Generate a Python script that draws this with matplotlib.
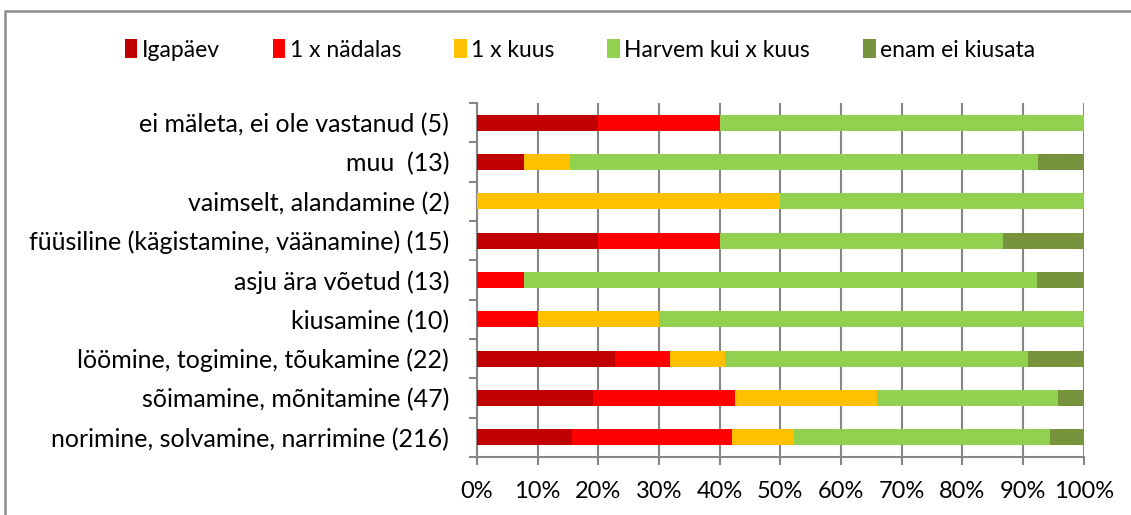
import matplotlib
matplotlib.use("Agg")
import matplotlib.pyplot as plt
from matplotlib.patches import Rectangle
import numpy as np

# categories listed bottom -> top
CATEGORIES = [
    "norimine, solvamine, narrimine (216)",
    "sõimamine, mõnitamine (47)",
    "löömine, togimine, tõukamine (22)",
    "kiusamine (10)",
    "asju ära võetud (13)",
    "füüsiline (kägistamine, väänamine) (15)",
    "vaimselt, alandamine (2)",
    "muu  (13)",
    "ei mäleta, ei ole vastanud (5)",
]
SERIES = ["Igapäev", "1 x nädalas", "1 x kuus", "Harvem kui x kuus", "enam ei kiusata"]
COLORS = ["#C00000", "#FF0000", "#FFC000", "#92D050", "#77933C"]

IGAPAEV = [15.7, 19.1, 22.7, 0.0, 0.0, 20.0, 0.0, 7.7, 20.0]
NADALAS = [26.4, 23.4, 9.1, 10.0, 7.7, 20.0, 0.0, 0.0, 20.0]
KUUS = [10.2, 23.4, 9.1, 20.0, 0.0, 0.0, 50.0, 7.7, 0.0]
HARVEM = [42.1, 29.8, 50.0, 70.0, 84.6, 46.7, 50.0, 77.0, 60.0]
ENAM = [5.6, 4.3, 9.1, 0.0, 7.7, 13.3, 0.0, 7.6, 0.0]

FONT = "Lato"
GRID = "#868686"

fig = plt.figure(figsize=(11.31, 5.15), dpi=100)
ax = fig.add_axes([477 / 1131, 1 - 457 / 515, (1083.7 - 477) / 1131, (457 - 103) / 515])

y = np.arange(len(CATEGORIES))
left = np.zeros(len(CATEGORIES))
for name, vals, col in zip(SERIES, [IGAPAEV, NADALAS, KUUS, HARVEM, ENAM], COLORS):
    vals = np.array(vals)
    ax.barh(y, vals, left=left, height=0.4, color=col, label=name, zorder=3)
    left += vals

ax.set_xlim(0, 100)
ax.set_ylim(-0.5, len(CATEGORIES) - 0.5)
ax.set_xticks(np.arange(0, 101, 10))
ax.set_xticklabels([f"{v}%" for v in range(0, 101, 10)], fontsize=17, family=FONT)
ax.xaxis.grid(True, color=GRID, lw=1.5, zorder=0)

ax.set_yticks(np.arange(-0.5, len(CATEGORIES), 1.0))
ax.set_yticklabels([])
ax.set_yticks(y, minor=True)
ax.set_yticklabels(CATEGORIES, minor=True, fontsize=18, family=FONT)
ax.tick_params(axis="y", which="minor", length=0, pad=20)
ax.tick_params(axis="y", which="major", length=6, width=1.5, color=GRID, direction="out")
ax.tick_params(axis="x", length=6, width=1.5, color=GRID, pad=11)

for s in ("top", "right"):
    ax.spines[s].set_visible(False)
for s in ("left", "bottom"):
    ax.spines[s].set_color(GRID)
    ax.spines[s].set_linewidth(1.5)

leg = fig.legend(loc="center", bbox_to_anchor=(580 / 1131, 1 - 50 / 515), ncol=5,
                 frameon=False, handlelength=0.55, handleheight=0.85, handletextpad=0.2,
                 columnspacing=2.3, prop={"family": FONT, "size": 16.5})

fig.patches.append(Rectangle((4.5 / 1131, -0.1), 1.2, 1.1 - 10.5 / 515, transform=fig.transFigure,
                             fill=False, edgecolor="#8c8c8c", lw=1.8))

fig.savefig("out.png", dpi=100)
